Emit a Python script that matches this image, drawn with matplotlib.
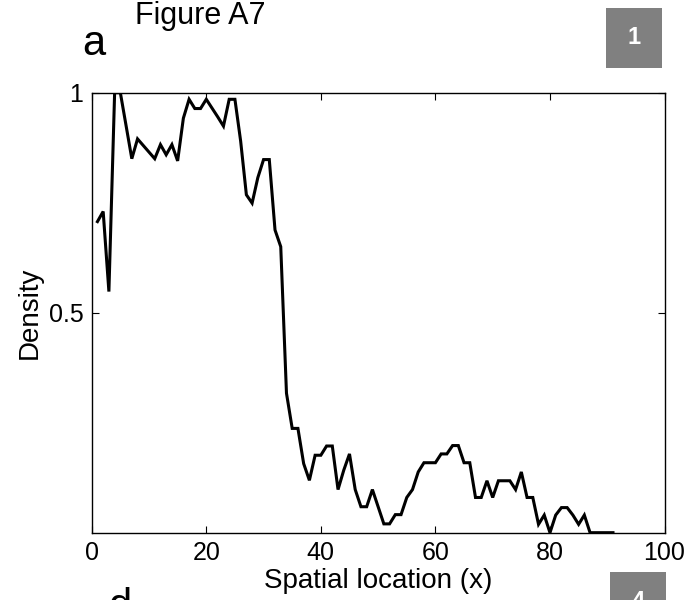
import matplotlib
matplotlib.use("Agg")
import matplotlib.pyplot as plt
from matplotlib.patches import Rectangle

plt.rcParams['font.family'] = ['Liberation Sans', 'DejaVu Sans']

# Data: spatial location vs density
x_loc = list(range(1, 92))
density = [
    0.707, 0.730, 0.548, 1.000, 1.000, 0.925, 0.850, 0.895, 0.880, 0.865,
    0.850, 0.882, 0.859, 0.882, 0.845, 0.942, 0.985, 0.964, 0.964, 0.985,
    0.965, 0.945, 0.924, 0.985, 0.985, 0.890, 0.768, 0.749, 0.807, 0.848,
    0.848, 0.688, 0.650, 0.317, 0.237, 0.237, 0.157, 0.119, 0.176, 0.176,
    0.197, 0.197, 0.098, 0.142, 0.179, 0.098, 0.059, 0.059, 0.098, 0.059,
    0.020, 0.020, 0.041, 0.041, 0.080, 0.098, 0.138, 0.159, 0.159, 0.159,
    0.179, 0.179, 0.198, 0.198, 0.159, 0.159, 0.080, 0.080, 0.118, 0.080,
    0.118, 0.118, 0.118, 0.098, 0.138, 0.080, 0.080, 0.019, 0.040, 0.000,
    0.040, 0.057, 0.057, 0.040, 0.019, 0.040, 0.000, 0.000, 0.000, 0.000,
    0.000,
]
x_ticks = [0, 20, 40, 60, 80, 100]
y_ticks = [0.5, 1]
y_tick_labels = ["0.5", "1"]

fig = plt.figure(figsize=(6.87, 6.0), dpi=100)
ax = fig.add_axes([0.1335, 0.1122, 0.8338, 0.7333])
ax.plot(x_loc, density, color='black', linewidth=2.2, solid_joinstyle='miter')
ax.set_xlim(0, 100)
ax.set_ylim(0, 1)
ax.set_xticks(x_ticks)
ax.set_yticks(y_ticks)
ax.set_yticklabels(y_tick_labels)
ax.tick_params(direction='in', top=True, right=True, length=5, width=0.8,
               labelsize=18, pad=6)
for s in ax.spines.values():
    s.set_linewidth(1.0)
ax.set_xlabel("Spatial location (x)", fontsize=20, labelpad=2)
ax.set_ylabel("Density", fontsize=20, labelpad=4)

fig.text(0.196, 0.96, "Figure A7", fontsize=22, ha='left', va='baseline')
fig.text(0.120, 0.908, "a", fontsize=30, ha='left', va='baseline')
fig.text(0.158, -0.03, "d", fontsize=30, ha='left', va='baseline')

fig.patches.append(Rectangle((0.882, 0.8867), 0.0815, 0.1, transform=fig.transFigure,
                             facecolor='#808080', edgecolor='none'))
fig.text(0.9225, 0.937, "1", fontsize=17, fontweight='bold', color='white',
         ha='center', va='center')
fig.patches.append(Rectangle((0.888, -0.053), 0.0815, 0.1, transform=fig.transFigure,
                             facecolor='#808080', edgecolor='none'))
fig.text(0.9285, -0.003, "4", fontsize=17, fontweight='bold', color='white',
         ha='center', va='center')

fig.savefig("out.png", dpi=100)
